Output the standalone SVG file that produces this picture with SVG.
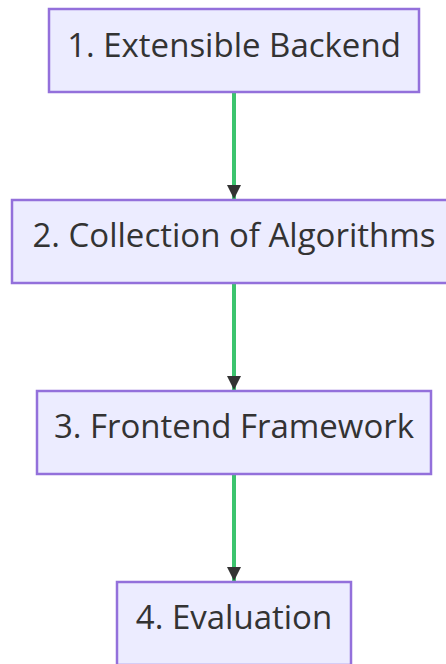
<svg xmlns="http://www.w3.org/2000/svg" width="446" height="664" viewBox="0 0 446 664">
  <style>
    .node rect { fill: #ECECFF; stroke: #9370DB; stroke-width: 2.5; }
    .node text { font-family: "Open Sans", "Liberation Sans", sans-serif; font-size: 33px; fill: #333333; text-anchor: middle; }
    .edge { stroke: #3CC46E; stroke-width: 4; fill: none; }
  </style>
  <defs>
    <marker id="arrowhead" markerUnits="userSpaceOnUse" markerWidth="16" markerHeight="14" refX="14" refY="7" orient="auto">
      <path d="M0,0 L14,7 L0,14 Z" fill="#333333"/>
    </marker>
  </defs>
  <rect width="446" height="664" fill="#FFFFFF"/>

  <g id="connectors">
    <line class="edge" x1="234" y1="93" x2="234" y2="199" marker-end="url(#arrowhead)"/>
    <line class="edge" x1="234" y1="284" x2="234" y2="390" marker-end="url(#arrowhead)"/>
    <line class="edge" x1="234" y1="475" x2="234" y2="581" marker-end="url(#arrowhead)"/>
  </g>

  <g id="node-backend" class="node">
    <rect x="49" y="9" width="370" height="83"/>
    <text x="234" y="57">1. Extensible Backend</text>
  </g>

  <g id="node-algorithms" class="node">
    <rect x="12" y="200" width="444" height="83"/>
    <text x="234" y="247">2. Collection of Algorithms</text>
  </g>

  <g id="node-frontend" class="node">
    <rect x="37" y="391" width="394" height="83"/>
    <text x="234" y="438">3. Frontend Framework</text>
  </g>

  <g id="node-evaluation" class="node">
    <rect x="117" y="582" width="234" height="83"/>
    <text x="234" y="629">4. Evaluation</text>
  </g>
</svg>
